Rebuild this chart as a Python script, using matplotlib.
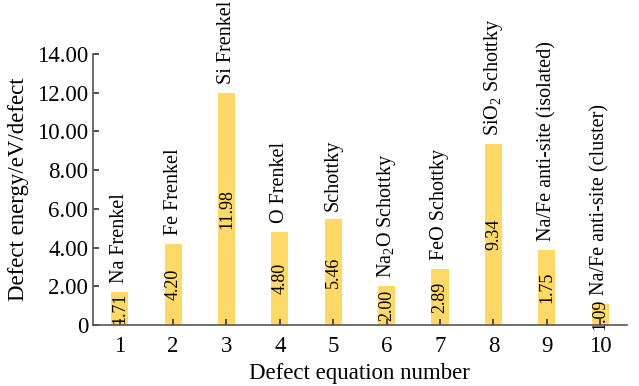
import matplotlib
matplotlib.use("Agg")
import matplotlib.pyplot as plt
import numpy as np
from matplotlib.ticker import FuncFormatter

# ── Data ──────────────────────────────────────────────────────────────────────
equation_numbers = [1, 2, 3, 4, 5, 6, 7, 8, 9, 10]
bar_heights = [1.71, 4.20, 11.98, 4.80, 5.46, 2.00, 2.89, 9.34, 3.87, 1.09]
value_labels = ["1.71", "4.20", "11.98", "4.80", "5.46",
                "2.00", "2.89", "9.34", "1.75", "1.09"]
defect_names = [
    "Na Frenkel", "Fe Frenkel", "Si Frenkel", "O Frenkel", "Schottky",
    "Na$_2$O Schottky", "FeO Schottky", "SiO$_2$ Schottky",
    "Na/Fe anti-site (isolated)", "Na/Fe anti-site (cluster)",
]

# ── Style ─────────────────────────────────────────────────────────────────────
plt.rcParams.update({
    "font.family": "Liberation Serif",
    "mathtext.fontset": "custom",
    "mathtext.rm": "Liberation Serif",
    "mathtext.it": "Liberation Serif:italic",
    "font.size": 16,
})

fig = plt.figure(figsize=(6.39, 3.86), dpi=100)
ax = fig.add_axes([0.1455, 0.158, 0.8355, 0.702])

x = np.array(equation_numbers)
ax.bar(x, bar_heights, width=0.32, color="#FED966", zorder=1)

for xi, h, lab, name in zip(x, bar_heights, value_labels, defect_names):
    ax.text(xi, h / 2, lab, rotation=90, ha="center", va="center",
            fontsize=13, zorder=3)
    ax.text(xi, h + 0.45, name, rotation=90, ha="center", va="bottom",
            fontsize=14.5, clip_on=False)

ax.set_xlim(0.5, 10.5)
ax.set_ylim(0, 14)
ax.set_xticks(x)
ax.set_yticks(np.arange(0, 15, 2))
ax.yaxis.set_major_formatter(FuncFormatter(lambda v, p: "0" if v == 0 else f"{v:.2f}"))

ax.set_xlabel("Defect equation number", fontsize=16.5, labelpad=4)
ax.set_ylabel("Defect energy/eV/defect", fontsize=16.5, labelpad=6)

ax.tick_params(direction="in", length=4, width=1.2, color="#333333",
               labelsize=16.5)
ax.tick_params(axis="x", pad=8)
for s in ["top", "right"]:
    ax.spines[s].set_visible(False)
for s in ["left", "bottom"]:
    ax.spines[s].set_color("#555555")
    ax.spines[s].set_linewidth(1.2)
    ax.spines[s].set_zorder(4)

fig.savefig("out.png", dpi=100)
